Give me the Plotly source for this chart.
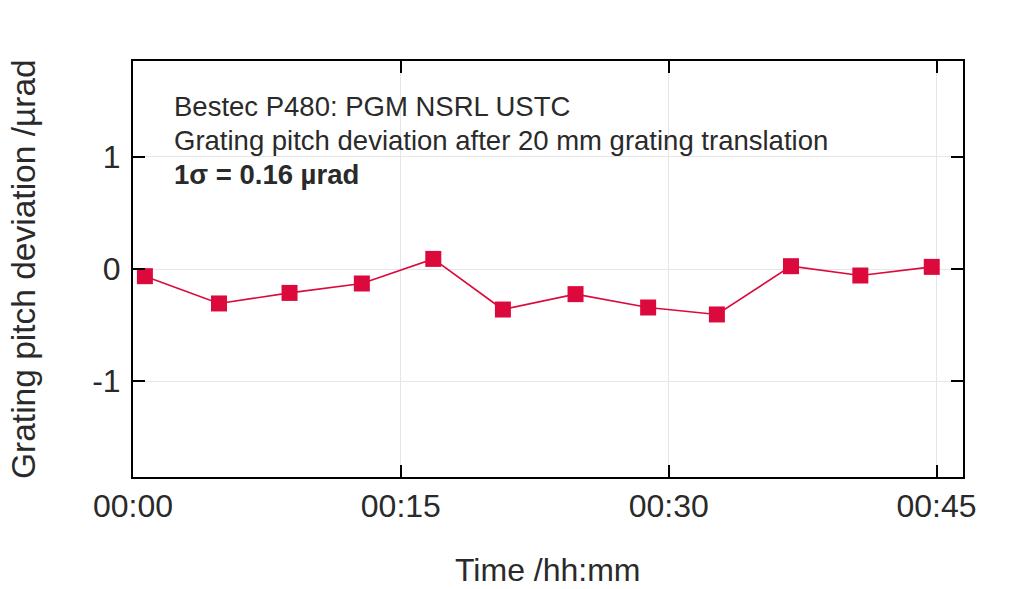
import plotly.graph_objects as go

# Data
times = ["2024-01-01 00:00:40", "2024-01-01 00:04:49", "2024-01-01 00:08:46",
         "2024-01-01 00:12:49", "2024-01-01 00:16:49", "2024-01-01 00:20:43",
         "2024-01-01 00:24:47", "2024-01-01 00:28:51", "2024-01-01 00:32:42",
         "2024-01-01 00:36:51", "2024-01-01 00:40:44", "2024-01-01 00:44:44"]
deviation = [-0.064, -0.307, -0.213, -0.129, 0.090, -0.361,
             -0.224, -0.343, -0.405, 0.025, -0.058, 0.019]

info_lines = ["Bestec P480: PGM NSRL USTC",
              "Grating pitch deviation after 20 mm grating translation",
              "<b>1σ = 0.16 µrad</b>"]
x_title = "Time /hh:mm"
y_title = "Grating pitch deviation /µrad"

RED = "#DC0A3C"
FONT = "Liberation Sans, Arial, sans-serif"
TXT = "#2a2a2a"

fig = go.Figure()
fig.add_trace(go.Scatter(
    x=times, y=deviation, mode="lines+markers",
    line=dict(color=RED, width=1.6),
    marker=dict(symbol="square", size=16, color=RED),
    showlegend=False,
))

axis_common = dict(
    showline=True, linecolor="black", linewidth=2, mirror="ticks",
    ticks="inside", ticklen=12, tickwidth=1.5, tickcolor="black",
    showgrid=True, gridcolor="#e6e6e6", gridwidth=1,
    zeroline=False,
    tickfont=dict(family=FONT, size=32, color=TXT),
)

fig.update_xaxes(
    type="date",
    range=["2024-01-01 00:00:00", "2024-01-01 00:46:29"],
    tick0="2024-01-01 00:00:00", dtick=15 * 60 * 1000,
    tickformat="%H:%M",
    **axis_common,
)
fig.update_yaxes(
    range=[-1.853, 1.853],
    tickvals=[-1, 0, 1], ticktext=["-1", "0", "1"],
    ticklabelstandoff=4,
    **axis_common,
)

annotations = []
for i, line in enumerate(info_lines):
    annotations.append(dict(
        xref="paper", yref="paper", x=0, y=1, xanchor="left", yanchor="middle",
        xshift=39, yshift=-(106 - 61) - 34 * i,
        text=line, showarrow=False,
        font=dict(family=FONT, size=27.5, color=TXT),
    ))
annotations.append(dict(
    xref="paper", yref="paper", x=0.5, y=0, xanchor="center", yanchor="middle",
    yshift=-93, text=x_title, showarrow=False,
    font=dict(family=FONT, size=32, color=TXT),
))
annotations.append(dict(
    xref="paper", yref="paper", x=0, y=0.5, xanchor="center", yanchor="middle",
    xshift=-110, text=y_title, textangle=-90, showarrow=False,
    font=dict(family=FONT, size=33.5, color=TXT),
))

fig.update_layout(
    width=1024, height=589,
    margin=dict(l=133, r=61, t=61, b=112),
    paper_bgcolor="white", plot_bgcolor="white",
    annotations=annotations,
)

fig.write_html(
    "out.html",
    config={"displayModeBar": False},
    post_script="document.body.style.margin='0';document.body.style.padding='0';",
)
